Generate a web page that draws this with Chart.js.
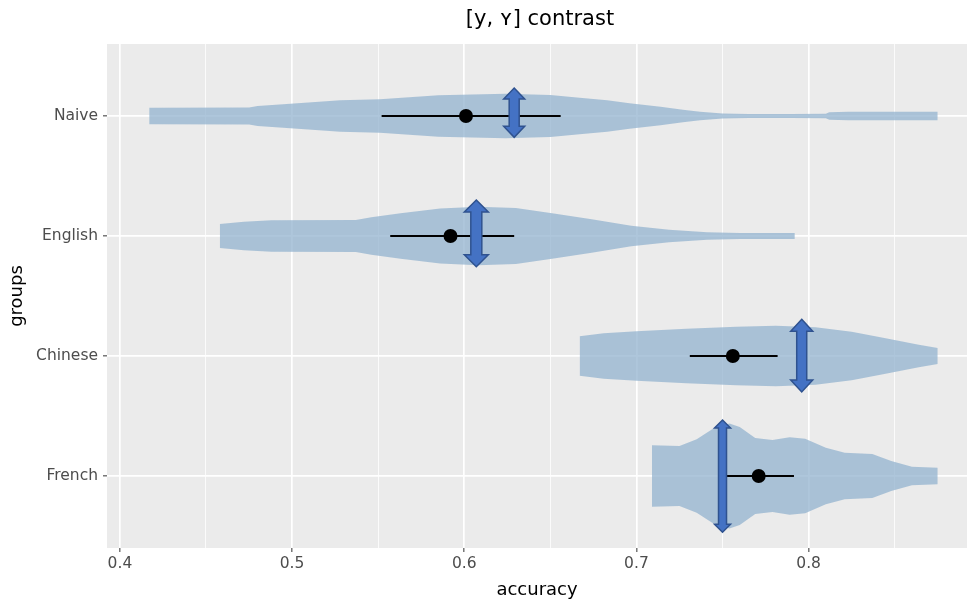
<!DOCTYPE html>
<html>
<head>
<meta charset="utf-8">
<script src="https://cdn.jsdelivr.net/npm/chart.js@4.4.0/dist/chart.umd.min.js"></script>
<style>
  html, body { margin: 0; padding: 0; background: #fff; overflow: hidden; }
  #chart { display: block; }
</style>
</head>
<body>
<canvas id="chart" width="967" height="601"></canvas>
<script>
const groups = ['Naive', 'English', 'Chinese', 'French'];
const chartTitle = '[y, ʏ] contrast';

// violin outlines: accuracy and half width (in group units)
const naiveAcc  = [0.417, 0.475, 0.480, 0.499, 0.528, 0.551, 0.585, 0.624, 0.650, 0.667, 0.683, 0.696, 0.714, 0.727, 0.737, 0.750, 0.765, 0.790, 0.810, 0.812, 0.823, 0.875];
const naiveHalf = [0.069, 0.071, 0.083, 0.103, 0.131, 0.139, 0.173, 0.186, 0.175, 0.153, 0.132, 0.107, 0.077, 0.053, 0.036, 0.021, 0.017, 0.017, 0.018, 0.032, 0.036, 0.036];

const englishAcc  = [0.458, 0.472, 0.488, 0.537, 0.546, 0.563, 0.586, 0.608, 0.630, 0.652, 0.674, 0.697, 0.719, 0.741, 0.760, 0.792];
const englishHalf = [0.100, 0.118, 0.132, 0.133, 0.157, 0.190, 0.229, 0.243, 0.233, 0.188, 0.139, 0.086, 0.053, 0.032, 0.025, 0.025];

const chineseAcc  = [0.667, 0.681, 0.700, 0.729, 0.758, 0.781, 0.804, 0.825, 0.844, 0.864, 0.875];
const chineseHalf = [0.164, 0.190, 0.206, 0.227, 0.243, 0.253, 0.240, 0.202, 0.150, 0.094, 0.067];

const frenchAcc  = [0.709, 0.725, 0.735, 0.744, 0.754, 0.760, 0.769, 0.779, 0.789, 0.798, 0.810, 0.821, 0.837, 0.848, 0.860, 0.875];
const frenchHalf = [0.257, 0.250, 0.306, 0.389, 0.438, 0.408, 0.317, 0.300, 0.323, 0.310, 0.236, 0.194, 0.183, 0.125, 0.077, 0.069];

// mean and interval per group
const meanAcc = [0.601, 0.592, 0.756, 0.771];
const ciLow   = [0.552, 0.557, 0.731, 0.7515];
const ciHigh  = [0.656, 0.629, 0.782, 0.7915];

// double arrows: accuracy, reach above / below the group line
const arrowAcc  = [0.629, 0.607, 0.796, 0.750];
const arrowUp   = [0.233, 0.300, 0.306, 0.467];
const arrowDown = [0.178, 0.256, 0.300, 0.469];

const xMajorTicks = [0.4, 0.5, 0.6, 0.7, 0.8];
const xMinorTicks = [0.45, 0.55, 0.65, 0.75, 0.85];

const violinFill = 'rgba(147, 179, 207, 0.75)';
const arrowShape = [
    { shaft: 10, head: 21, headLen: 11 },
    { shaft: 11, head: 24, headLen: 12 },
    { shaft: 10, head: 22, headLen: 12 },
    { shaft: 8,  head: 16, headLen: 8 }
];

Chart.defaults.font.family = '"DejaVu Sans", sans-serif';

const isMajor = v => xMajorTicks.some(m => Math.abs(m - v) < 1e-6);

const violins = [
    { acc: naiveAcc, half: naiveHalf },
    { acc: englishAcc, half: englishHalf },
    { acc: chineseAcc, half: chineseHalf },
    { acc: frenchAcc, half: frenchHalf }
];

const datasets = [];
violins.forEach((v, i) => {
    const pos = i + 1;
    datasets.push({
        data: v.acc.map((a, k) => ({ x: a, y: pos - v.half[k] })),
        borderColor: 'transparent', borderWidth: 0, pointRadius: 0,
        tension: 0, fill: false, order: 3
    });
    datasets.push({
        data: v.acc.map((a, k) => ({ x: a, y: pos + v.half[k] })),
        borderColor: 'transparent', borderWidth: 0, pointRadius: 0,
        tension: 0, fill: '-1', backgroundColor: violinFill, order: 3
    });
});

groups.forEach((g, i) => {
    datasets.push({
        data: [{ x: ciLow[i], y: i + 1 }, { x: ciHigh[i], y: i + 1 }],
        borderColor: '#000', borderWidth: 1.8, pointRadius: 0, fill: false, order: 2
    });
});

datasets.push({
    data: meanAcc.map((a, i) => ({ x: a, y: i + 1 })),
    showLine: false, pointRadius: 7, pointBackgroundColor: '#000',
    pointBorderWidth: 0, order: 1
});

const panelBg = {
    id: 'panelBg',
    beforeDraw(chart) {
        const { ctx, chartArea: a } = chart;
        ctx.save();
        ctx.fillStyle = '#fff';
        ctx.fillRect(0, 0, chart.width, chart.height);
        ctx.fillStyle = '#EBEBEB';
        ctx.fillRect(a.left, a.top, a.right - a.left, a.bottom - a.top);
        ctx.restore();
    }
};

const arrows = {
    id: 'arrows',
    afterDatasetsDraw(chart) {
        const { ctx, scales: { x, y } } = chart;
        ctx.save();
        arrowAcc.forEach((acc, i) => {
            const s = arrowShape[i];
            const cx = x.getPixelForValue(acc);
            const top = y.getPixelForValue(i + 1 - arrowUp[i]);
            const bot = y.getPixelForValue(i + 1 + arrowDown[i]);
            const sw = s.shaft / 2, hw = s.head / 2, hl = s.headLen;
            ctx.beginPath();
            ctx.moveTo(cx, top);
            ctx.lineTo(cx + hw, top + hl);
            ctx.lineTo(cx + sw, top + hl);
            ctx.lineTo(cx + sw, bot - hl);
            ctx.lineTo(cx + hw, bot - hl);
            ctx.lineTo(cx, bot);
            ctx.lineTo(cx - hw, bot - hl);
            ctx.lineTo(cx - sw, bot - hl);
            ctx.lineTo(cx - sw, top + hl);
            ctx.lineTo(cx - hw, top + hl);
            ctx.closePath();
            ctx.fillStyle = '#4472C4';
            ctx.fill();
            ctx.lineWidth = 1.5;
            ctx.strokeStyle = '#2F528F';
            ctx.stroke();
        });
        ctx.restore();
    }
};

const plotTitle = {
    id: 'plotTitle',
    afterDraw(chart) {
        const { ctx, chartArea: a } = chart;
        ctx.save();
        ctx.font = '21px "DejaVu Sans", sans-serif';
        ctx.fillStyle = '#000';
        ctx.textAlign = 'center';
        ctx.textBaseline = 'middle';
        ctx.fillText(chartTitle, (a.left + a.right) / 2 + 3, 20);
        ctx.restore();
    }
};

new Chart(document.getElementById('chart'), {
    type: 'line',
    data: { datasets: datasets },
    options: {
        responsive: false,
        animation: false,
        layout: { autoPadding: false, padding: { top: 44, right: 0, bottom: 0, left: 0 } },
        plugins: {
            legend: { display: false },
            tooltip: { enabled: false }
        },
        scales: {
            x: {
                type: 'linear',
                min: 0.3925,
                max: 0.892,
                afterBuildTicks: axis => {
                    axis.ticks = xMajorTicks.concat(xMinorTicks).sort((a, b) => a - b).map(v => ({ value: v }));
                },
                afterFit: axis => {
                    axis.height = 53;
                    axis.paddingLeft = 0;
                    axis.paddingRight = 0;
                },
                ticks: {
                    autoSkip: false,
                    maxRotation: 0,
                    padding: 3,
                    color: '#4D4D4D',
                    font: { size: 15.5 },
                    callback: v => isMajor(v) ? v.toFixed(1) : ''
                },
                grid: {
                    color: '#fff',
                    lineWidth: c => isMajor(c.tick.value) ? 1.7 : 0.8,
                    drawTicks: true,
                    tickLength: 4,
                    tickWidth: 1,
                    tickColor: c => isMajor(c.tick.value) ? '#333' : 'rgba(0,0,0,0)'
                },
                border: { display: false },
                title: {
                    display: true,
                    text: 'accuracy',
                    color: '#000',
                    font: { size: 18 },
                    padding: { top: 0, bottom: 0 }
                }
            },
            y: {
                type: 'linear',
                min: 0.4,
                max: 4.6,
                reverse: true,
                afterBuildTicks: axis => {
                    axis.ticks = groups.map((g, i) => ({ value: i + 1 }));
                },
                afterFit: axis => {
                    axis.width = 107;
                    axis.paddingTop = 0;
                    axis.paddingBottom = 0;
                },
                ticks: {
                    padding: 5,
                    color: '#4D4D4D',
                    font: { size: 15.5 },
                    callback: v => groups[Math.round(v) - 1] || ''
                },
                grid: {
                    color: '#fff',
                    lineWidth: 1.7,
                    drawTicks: true,
                    tickLength: 4,
                    tickWidth: 1,
                    tickColor: '#333'
                },
                border: { display: false },
                title: {
                    display: true,
                    text: 'groups',
                    color: '#000',
                    font: { size: 18 },
                    padding: { top: 7, bottom: 0 }
                }
            }
        }
    },
    plugins: [panelBg, arrows, plotTitle]
});
</script>
</body>
</html>
